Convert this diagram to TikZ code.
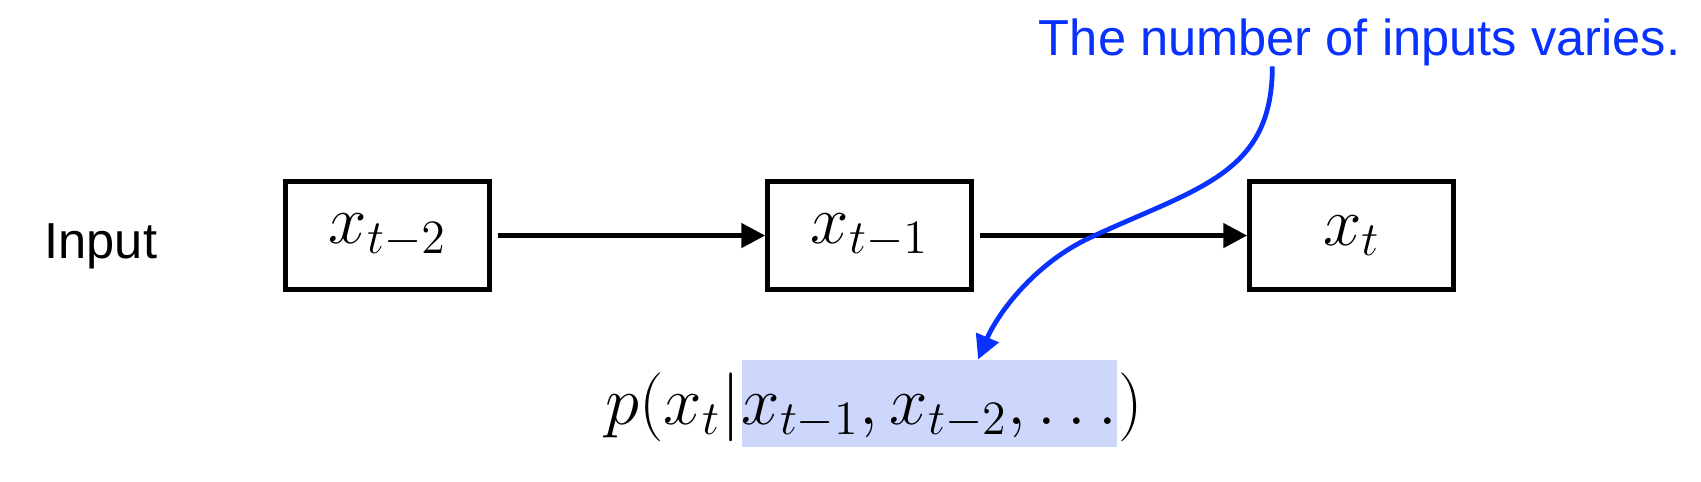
\documentclass[tikz,border=0pt]{standalone}
\usepackage{fontspec}
\setsansfont{Liberation Sans}
\usetikzlibrary{arrows.meta}

\definecolor{noteblue}{RGB}{10,50,255}
\definecolor{condfill}{RGB}{205,215,252}

\begin{document}
\begin{tikzpicture}

    \tikzset{boxstyle/.style={draw, line width=1.25pt, minimum width=1.8cm, minimum height=0.945cm, inner sep=0pt, font=\fontsize{17.28}{20}\selectfont}}
    \tikzset{mathstyle/.style={inner sep=0pt, font=\fontsize{17.28}{20}\selectfont}}
    \tikzset{labelstyle/.style={inner sep=0pt, font=\sffamily\fontsize{12.7}{15}\selectfont}}
    \tikzset{arrowstyle/.style={line width=1.25pt, -{Triangle[length=6pt,width=6pt]}, shorten <=1.5pt}}

    \useasboundingbox (0,0) rectangle (15,4.242);

    \node[labelstyle, anchor=base] (input) at (0.89, 1.966) {Input};

    \node[boxstyle] (x1) at ( 3.42, 2.165) {$x_{t-2}$};
    \node[boxstyle] (x2) at ( 7.67, 2.165) {$x_{t-1}$};
    \node[boxstyle] (x3) at (11.92, 2.165) {$x_t$};

    \draw[arrowstyle] (x1) -- (x2);
    \draw[arrowstyle] (x2) -- (x3);

    % the conditional probability, with the varying inputs highlighted
    \node[mathstyle, fill=condfill, text height=16pt, text depth=5.75pt, anchor=base west] (cond) at (6.534, 0.503) {$x_{t-1},x_{t-2},\ldots$};
    \node[mathstyle, anchor=base east] (lhs) at (cond.base west) {$p(x_t|$};
    \node[mathstyle, anchor=base west] (rhs) at (cond.base east) {$)$};

    \node[labelstyle, text=noteblue, anchor=base] (note) at (11.99, 3.757) {The number of inputs varies.};
    \coordinate (bend) at (9.62, 2.15);
    \draw[noteblue, line width=1.2pt, -{Triangle[length=6pt,width=6pt]}]
        ([xshift=-0.77cm]note.south) .. controls +(0,-0.95) and +(0.95,0.44) .. (bend)
        .. controls +(-0.5,-0.23) and +(0.17,0.4) .. ([xshift=0.43cm]cond.north);

\end{tikzpicture}
\end{document}
